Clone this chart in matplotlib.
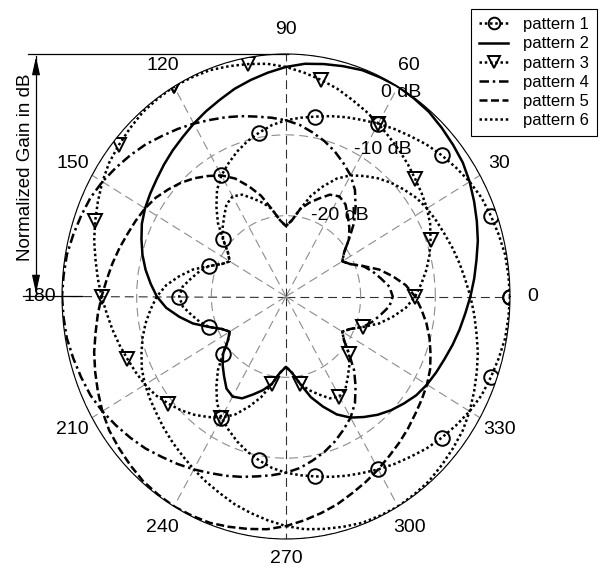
import numpy as np
import matplotlib
matplotlib.use("Agg")
from matplotlib import pyplot as plt
from matplotlib.lines import Line2D

plt.rcParams['font.family'] = ['Liberation Sans', 'DejaVu Sans']

# gain of one beam (dB) against the angle off its axis, 0..180 deg in 5 deg steps
off_axis = np.arange(0, 185, 5)
gain_db = [0.0, -0.1, -0.2, -0.5, -0.8, -1.1, -1.6, -2.2, -2.8, -3.4,
           -4.1, -4.7, -5.3, -5.9, -6.4, -6.9, -7.4, -7.8, -8.2, -8.7,
           -9.4, -10.1, -10.9, -11.8, -12.7, -13.9, -15.5, -17.1, -19.0, -20.5,
           -21.3, -20.5, -19.0, -18.0, -17.1, -16.1, -15.7]

# the six patterns are the same beam pointed in six directions
beam_dir = [0, 60, 120, 180, 240, 300]
names = ['pattern 1', 'pattern 2', 'pattern 3', 'pattern 4', 'pattern 5', 'pattern 6']

dot = (0, (1, 1.1))
styles = [
    dict(ls=dot, marker='o'),
    dict(ls='-'),
    dict(ls=dot, marker='v'),
    dict(ls=(0, (3.8, 1.5, 1, 1.5))),
    dict(ls=(0, (3.2, 1.4))),
    dict(ls=dot),
]

ang_labels = [0, 30, 60, 90, 120, 150, 180, 210, 240, 270, 300, 330]
r_labels = [0, -10, -20]

W, H = 599, 568
fig = plt.figure(figsize=(W / 100, H / 100), dpi=100)
ax = fig.add_axes([62 / W, 29 / H, 448 / W, 485 / H], projection='polar')
ax.set_aspect('auto')

ax.set_ylim(-30, 0)
ax.set_yticks([-20, -10, 0])
ax.set_yticklabels([])
ax.set_xticks(np.deg2rad(ang_labels))
ax.set_xticklabels([])
ax.grid(True, ls=(0, (8, 4.5)), color='#8c8c8c', lw=0.8)
for i, gl in enumerate(ax.xaxis.get_gridlines()):
    if i % 3 == 0:
        gl.set_color('#303030')
ax.spines['polar'].set_linewidth(0.8)
ax.spines['polar'].set_color('k')

# full turn around each beam (mirror the half pattern)
full_off = np.arange(0, 365, 5)
full_gain = np.concatenate([gain_db, gain_db[-2::-1]])

for b, name, st in zip(beam_dir, names, styles):
    th = np.deg2rad(b + full_off)
    ax.plot(th, full_gain, color='k', lw=1.8, label=name,
            mfc='none', mec='k', ms=10.5, mew=1.4, markevery=4, **st)

for a in ang_labels:
    r = 2.4 if a == 270 else 3.0
    ax.text(np.deg2rad(a), r, str(a), ha='center', va='center', fontsize=14)

for r, a, rr in zip(r_labels, [58.7, 54.4, 54.3], [-0.4, -7.7, -17.6]):
    ax.text(np.deg2rad(a), rr, '%d dB' % r, ha='center', va='center', fontsize=14)

leg = ax.legend(loc='upper right', bbox_to_anchor=(597 / W, 1 - 9 / H),
                bbox_transform=fig.transFigure, fontsize=12, frameon=True,
                fancybox=False, framealpha=1, edgecolor='k', borderaxespad=0,
                handlelength=1.7, handletextpad=0.9, labelspacing=0.25,
                borderpad=0.5, numpoints=1, markerscale=0.8)
leg.get_frame().set_linewidth(0.8)

# gain scale arrow on the left
def fx(x):
    return x / W

def fy(y):
    return 1 - y / H

fig.add_artist(Line2D([fx(28), fx(288)], [fy(54), fy(54)], color='k', lw=0.9))
fig.add_artist(Line2D([fx(23), fx(82)], [fy(296), fy(296)], color='k', lw=0.9))
fig.add_artist(Line2D([fx(36), fx(36)], [fy(56), fy(294)], color='k', lw=0.9))
fig.patches.append(matplotlib.patches.FancyArrowPatch(
    (fx(36), fy(70)), (fx(36), fy(54)), transform=fig.transFigure,
    arrowstyle='-|>,head_length=0.9,head_width=0.2', mutation_scale=12, color='k', lw=0.9))
fig.patches.append(matplotlib.patches.FancyArrowPatch(
    (fx(36), fy(280)), (fx(36), fy(296)), transform=fig.transFigure,
    arrowstyle='-|>,head_length=0.9,head_width=0.2', mutation_scale=12, color='k', lw=0.9))
fig.text(fx(26), fy(167), 'Normalized Gain in dB', rotation=90,
         ha='center', va='center', fontsize=13.5)

fig.savefig('out.png', dpi=100)
